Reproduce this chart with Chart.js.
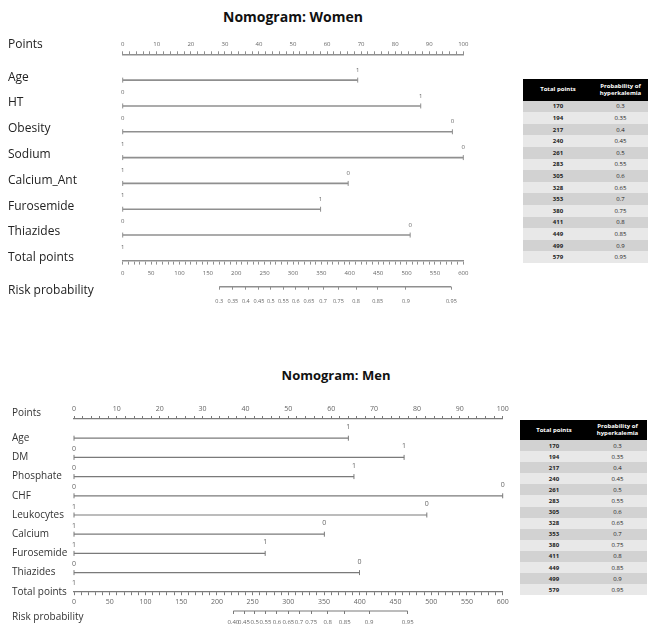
<!DOCTYPE html>
<html>
<head>
<meta charset="utf-8">
<script src="https://cdn.jsdelivr.net/npm/chart.js@4.4.0/dist/chart.umd.min.js"></script>
<style>
  body { margin: 0; width: 650px; height: 629px; position: relative; overflow: hidden; background: #fff; font-family: "Open Sans", "Noto Sans", sans-serif; }
  .title { position: absolute; width: 240px; text-align: center; font-weight: bold; color: #111; white-space: nowrap; }
  canvas { position: absolute; left: 0; }
  .tbl { position: absolute; font-size: 6px; color: #222; }
  .tbl .row { display: grid; align-items: center; text-align: center; }
  .tbl .head { background: #000; color: #fff; font-weight: bold; line-height: 7px; }
  .tbl .odd { background: #d2d2d2; }
  .tbl .even { background: #e8e8e8; }
  .tbl .c1 { font-weight: bold; }
</style>
</head>
<body>
<div class="title" style="left:173px;top:8px;font-size:14px;line-height:18px">Nomogram: Women</div>
<canvas id="women" width="515" height="320" style="top:0"></canvas>
<div class="tbl" id="womenTable"></div>

<div class="title" style="left:216px;top:366px;font-size:13px;line-height:18px">Nomogram: Men</div>
<canvas id="men" width="515" height="244" style="top:385px"></canvas>
<div class="tbl" id="menTable"></div>

<script>
// ── data ────────────────────────────────────────────────────────────────────
const womenFactors   = ["Age", "HT", "Obesity", "Sodium", "Calcium_Ant", "Furosemide", "Thiazides"]
const womenEnds      = [69, 87.5, 96.8, 100, 66.2, 58.1, 84.4]
const womenLeft      = ["", "0", "0", "1", "1", "1", "0"]
const womenRight     = ["1", "1", "0", "0", "0", "1", "0"]
const womenRiskTotal = [170, 194, 217, 240, 261, 283, 305, 328, 353, 380, 411, 449, 499, 579]
const womenRiskProb  = ["0.3", "0.35", "0.4", "0.45", "0.5", "0.55", "0.6", "0.65", "0.7", "0.75", "0.8", "0.85", "0.9", "0.95"]

const menFactors     = ["Age", "DM", "Phosphate", "CHF", "Leukocytes", "Calcium", "Furosemide", "Thiazides"]
const menEnds        = [64, 77, 65.3, 100, 82.3, 58.4, 44.6, 66.6]
const menLeft        = ["", "0", "0", "0", "1", "1", "1", "0"]
const menRight       = ["1", "1", "1", "0", "0", "0", "1", "0"]
const menRiskTotal   = [223, 238, 253, 268, 284, 300, 315, 332, 355, 379, 413, 467]
const menRiskProb    = ["0.40", "0.45", "0.5", "0.55", "0.6", "0.65", "0.7", "0.75", "0.8", "0.85", "0.9", "0.95"]

// lookup table shown beside each nomogram
const tableTotals = [170, 194, 217, 240, 261, 283, 305, 328, 353, 380, 411, 449, 499, 579]
const tableProbs  = ["0.3", "0.35", "0.4", "0.45", "0.5", "0.55", "0.6", "0.65", "0.7", "0.75", "0.8", "0.85", "0.9", "0.95"]

const FONT = "'Open Sans', 'Noto Sans', sans-serif"

// ── level labels (0 / 1) above the ends of each factor line ────────────────
function levelPlugin(cfg) {
  return {
    id: "levelLabels",
    afterDatasetsDraw(chart) {
      const ctx = chart.ctx
      const px = chart.scales.points
      const py = chart.scales.y
      ctx.save()
      ctx.font = cfg.levelSize + "px " + FONT
      ctx.fillStyle = cfg.tickColor
      ctx.textAlign = "center"
      ctx.textBaseline = "middle"
      cfg.left.forEach((t, i) => {
        if (t) ctx.fillText(t, px.getPixelForValue(0), py.getPixelForValue(i + 1) - cfg.leftRise)
      })
      cfg.right.forEach((t, i) => {
        if (t) ctx.fillText(t, px.getPixelForValue(cfg.ends[i]), py.getPixelForValue(i + 1) - cfg.rightRise)
      })
      // stray "1" sitting above the start of the Total points axis
      ctx.fillText("1", px.getPixelForValue(0), py.getPixelForValue(cfg.factors.length + 1) - cfg.leftRise)
      ctx.restore()
    }
  }
}

function drawNomogram(id, cfg) {
  const rows = ["Points", ...cfg.factors, "Total points", "Risk probability"]
  const totalRow = cfg.factors.length + 1
  const riskRow = cfg.factors.length + 2
  const risk = cfg.riskTotal

  const lineStyle = {
    borderColor: cfg.line, borderWidth: cfg.lineWidth,
    pointStyle: "line", rotation: 90, pointRadius: cfg.endTick,
    pointBorderColor: cfg.line, pointBorderWidth: 1, pointHoverRadius: 0,
    showLine: true, fill: false, clip: false
  }
  const datasets = cfg.factors.map((f, i) => ({
    ...lineStyle, label: f, xAxisID: "points",
    data: [{x: 0, y: i + 1}, {x: cfg.ends[i], y: i + 1}]
  }))
  datasets.push({
    ...lineStyle, label: "Risk probability", xAxisID: "risk", pointRadius: 0,
    data: [{x: risk[0], y: riskRow}, {x: risk[risk.length - 1], y: riskRow}]
  })

  const grid = {drawOnChartArea: false, tickLength: 3, color: cfg.line, lineWidth: 1}
  const tickBase = {autoSkip: false, maxRotation: 0, minRotation: 0, color: cfg.tickColor, font: {family: FONT, size: cfg.tickSize}}

  new Chart(document.getElementById(id), {
    type: "scatter",
    data: {datasets},
    plugins: [levelPlugin(cfg)],
    options: {
      responsive: false,
      animation: false,
      events: [],
      layout: {padding: cfg.padding},
      plugins: {legend: {display: false}, tooltip: {enabled: false}},
      scales: {
        y: {
          type: "linear", axis: "y", position: "left", reverse: true, min: 0, max: riskRow,
          afterBuildTicks: s => { s.ticks = rows.map((_, i) => ({value: i})) },
          afterFit: s => { s.width = cfg.labelWidth },
          grid: {display: false}, border: {display: false},
          // mirrored labels pulled back to the left margin, so long names are not clipped
          ticks: {
            autoSkip: false, mirror: true, padding: -cfg.labelWidth, labelOffset: cfg.labelOffset,
            color: cfg.labelColor, font: {family: FONT, size: cfg.labelSize},
            callback: v => {
              if (v === 0) return [rows[v], ""]
              if (v === riskRow) return ["", rows[v]]
              return rows[v]
            }
          }
        },
        points: {
          type: "linear", axis: "x", position: "top", min: 0, max: 100,
          afterFit: s => { s.height = cfg.topHeight },
          grid, border: {color: cfg.line, width: cfg.lineWidth},
          ticks: {...tickBase, stepSize: 2, padding: 3, callback: v => v % 10 === 0 ? v : ""}
        },
        total: {
          type: "linear", axis: "x", position: {y: totalRow}, min: 0, max: 600,
          grid, border: {color: cfg.line, width: cfg.lineWidth},
          ticks: {...tickBase, stepSize: 10, padding: cfg.totalPad, callback: v => v % 50 === 0 ? v : ""}
        },
        risk: {
          type: "linear", axis: "x", position: "bottom", min: 0, max: 600,
          afterBuildTicks: s => { s.ticks = risk.map(v => ({value: v})) },
          afterFit: s => { s.height = cfg.bottomHeight },
          grid, border: {display: false},
          ticks: {...tickBase, font: {family: FONT, size: cfg.riskSize}, padding: cfg.riskPad, callback: (v, i) => cfg.riskProb[i]}
        }
      }
    }
  })
}

function buildTable(id, box) {
  const el = document.getElementById(id)
  Object.assign(el.style, {left: box.left + "px", top: box.top + "px", width: box.width + "px"})
  const cols = `grid-template-columns: ${box.split}px 1fr;`
  let html = `<div class="row head" style="${cols}height:${box.head}px"><span>Total points</span><span>Probability of<br>hyperkalemia</span></div>`
  tableTotals.forEach((t, i) => {
    html += `<div class="row ${i % 2 ? "even" : "odd"}" style="${cols}height:${box.rowH}px"><span class="c1">${t}</span><span>${tableProbs[i]}</span></div>`
  })
  el.innerHTML = html
}

drawNomogram("women", {
  factors: womenFactors, ends: womenEnds, left: womenLeft, right: womenRight,
  riskTotal: womenRiskTotal, riskProb: womenRiskProb,
  padding: {top: 30, left: 8, right: 51.7, bottom: 8.3},
  labelWidth: 114.7, topHeight: 24.3, bottomHeight: 25,
  labelOffset: -3, labelSize: 12, labelColor: "#222",
  tickSize: 6, riskSize: 5.5, tickColor: "#666", levelSize: 6,
  totalPad: 6, riskPad: 8.5, leftRise: 13.5, rightRise: 10,
  line: "#8f8f8f", lineWidth: 1.6, endTick: 2.5
})

drawNomogram("men", {
  factors: menFactors, ends: menEnds, left: menLeft, right: menRight,
  riskTotal: menRiskTotal, riskProb: menRiskProb,
  padding: {top: 14, left: 12, right: 12.3, bottom: 4},
  labelWidth: 62, topHeight: 20, bottomHeight: 14,
  labelOffset: 0, labelSize: 10, labelColor: "#333",
  tickSize: 7, riskSize: 6, tickColor: "#666", levelSize: 7,
  totalPad: 3, riskPad: 4.5, leftRise: 8.5, rightRise: 11,
  line: "#7a7a7a", lineWidth: 1.2, endTick: 2.5
})

buildTable("womenTable", {left: 523, top: 79, width: 125, split: 70, head: 21.7, rowH: 11.6})
buildTable("menTable", {left: 520, top: 420, width: 127, split: 68, head: 20, rowH: 11.1})
</script>
</body>
</html>
